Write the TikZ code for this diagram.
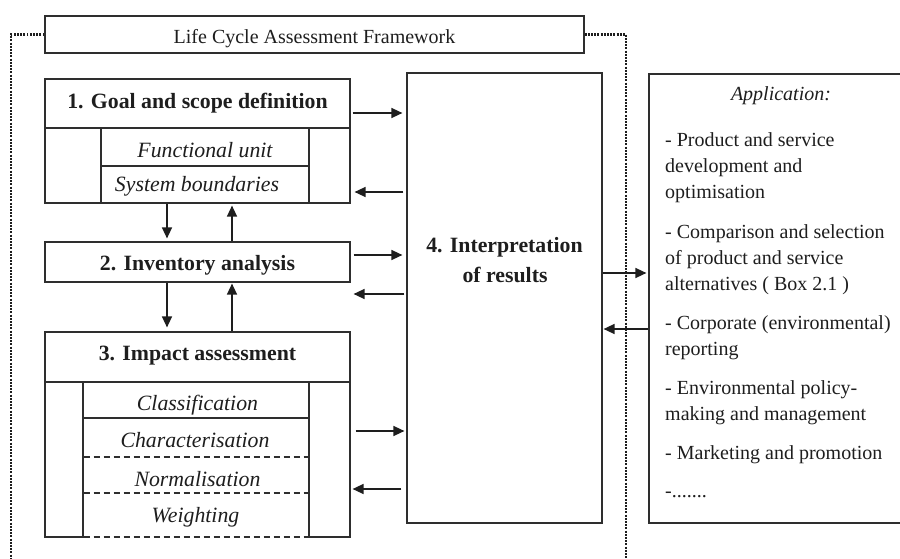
\documentclass[tikz,border=0pt]{standalone}
\usepackage{fontspec}
\setmainfont{Liberation Serif}
\usetikzlibrary{arrows.meta}

\definecolor{ink}{HTML}{1E1E1E}
\definecolor{rule}{HTML}{2E2E2E}

\tikzset{
  box/.style={draw=rule, line width=1.2pt, inner sep=0pt, fill=none},
  arr/.style={draw=ink, line width=1.5pt, -{Triangle[length=11pt,width=10pt]}},
  dotline/.style={draw=ink, line width=2.3pt, dash pattern=on 1.9pt off 1.3pt},
  dashrule/.style={draw=rule, line width=1.1pt, dash pattern=on 6pt off 4pt},
  solidrule/.style={draw=rule, line width=1.2pt},
  head/.style={font=\fontsize{21.8}{26}\selectfont\bfseries, text=ink, anchor=base, inner sep=0pt},
  step label/.style={font=\fontsize{21.8}{26}\selectfont\itshape, text=ink, anchor=base, inner sep=0pt},
  plain/.style={font=\fontsize{20}{26}\selectfont, text=ink, anchor=base, inner sep=0pt},
  appline/.style={font=\fontsize{20}{26}\selectfont, text=ink, anchor=base west, inner sep=0pt},
}

\begin{document}
\begin{tikzpicture}[x=1pt, y=-1pt]
  \useasboundingbox (0,0) rectangle (900,559);
  \fill[white] (0,0) rectangle (900,559);

  % framework title and dotted frame
  \node[box, minimum width=539pt, minimum height=37pt] (title) at (314.5,34.5) {};
  \node[plain] (titletext) at (314.5,43.3) {Life Cycle Assessment Framework};
  \coordinate (fl) at (11,565);
  \coordinate (fr) at (626,565);
  \draw[dotline] (title.west) -| (fl);
  \draw[dotline] (title.east) -| (fr);

  % 1. goal and scope
  \node[box, minimum width=305pt, minimum height=49pt] (g1) at (197.5,103.5) {};
  \node[head] (g1text) at (197.5,108.5) {1. Goal and scope definition};
  \node[box, minimum width=305pt, minimum height=75pt] (g1b) at (197.5,165.5) {};
  \node[box, minimum width=208pt, minimum height=38pt] (fu) at (205,147) {};
  \node[box, minimum width=208pt, minimum height=37pt] (sb) at (205,184.5) {};
  \node[step label] (futext) at (205,158) {Functional unit};
  \node[step label] (sbtext) at (197,192) {System boundaries};

  % 2. inventory analysis
  \node[box, minimum width=305pt, minimum height=40pt] (g2) at (197.5,262) {};
  \node[head] (g2text) at (197.5,270) {2. Inventory analysis};

  % 3. impact assessment
  \node[box, minimum width=305pt, minimum height=50pt] (g3) at (197.5,357) {};
  \node[head] (g3text) at (197.5,360) {3. Impact assessment};
  \node[box, minimum width=38pt, minimum height=155pt] (lc) at (64,459.5) {};
  \node[box, minimum width=41pt, minimum height=155pt] (rc) at (329.5,459.5) {};
  \coordinate (y418) at (0,418);
  \coordinate (y457) at (0,457);
  \coordinate (y493) at (0,493);
  \coordinate (y537) at (0,537);
  \draw[solidrule] (lc.east |- y418) -- (rc.west |- y418);
  \draw[dashrule] (lc.east |- y457) -- (rc.west |- y457);
  \draw[dashrule] (lc.east |- y493) -- (rc.west |- y493);
  \draw[dashrule] (lc.east |- y537) -- (rc.west |- y537);
  \node[step label] (cl) at (197.5,410) {Classification};
  \node[step label] (ch) at (195,447) {Characterisation};
  \node[step label] (no) at (197.5,486) {Normalisation};
  \node[step label] (we) at (195.5,522) {Weighting};

  % 4. interpretation
  \node[box, minimum width=195pt, minimum height=450pt] (b4) at (504.5,298) {};
  \node[head] (b4a) at (504.5,252) {4. Interpretation};
  \node[head] (b4b) at (505,282) {of results};

  % applications
  \node[box, minimum width=263pt, minimum height=449pt] (app) at (780.5,298.5) {};
  \node[font=\fontsize{20}{26}\selectfont\itshape, text=ink, anchor=base, inner sep=0pt] (apphead) at (781,100.5) {Application:};
  \node[appline] (a1) at (665,147) {- Product and service};
  \node[appline] (a2) at (665,173) {development and};
  \node[appline] (a3) at (665,199) {optimisation};
  \node[appline] (a4) at (665,238) {- Comparison and selection};
  \node[appline] (a5) at (665,264) {of product and service};
  \node[appline] (a6) at (665,290) {alternatives ( Box 2.1 )};
  \node[appline] (a7) at (665,329) {- Corporate (environmental)};
  \node[appline] (a8) at (665,355) {reporting};
  \node[appline] (a9) at (665,394) {- Environmental policy-};
  \node[appline] (a10) at (665,420) {making and management};
  \node[appline] (a11) at (665,459) {- Marketing and promotion};
  \node[appline] (a12) at (665,497) {-.......};

  % rows and columns of the connectors
  \coordinate (r113) at (0,113);
  \coordinate (r192) at (0,192);
  \coordinate (r255) at (0,255);
  \coordinate (r294) at (0,294);
  \coordinate (r431) at (0,431);
  \coordinate (r489) at (0,489);
  \coordinate (r273) at (0,273);
  \coordinate (r329) at (0,329);
  \coordinate (c1) at (167,0);
  \coordinate (c2) at (232,0);

  % connectors between the phases
  \draw[arr, shorten <=2pt, shorten >=4pt] (g1.east |- r113) -- (b4.west |- r113);
  \draw[arr, shorten <=3pt, shorten >=4pt] (b4.west |- r192) -- (g1b.east |- r192);
  \draw[arr, shorten >=3pt] (g1b.south -| c1) -- (g2.north -| c1);
  \draw[arr, shorten >=2pt] (g2.north -| c2) -- (g1b.south -| c2);
  \draw[arr, shorten <=3pt, shorten >=4pt] (g2.east |- r255) -- (b4.west |- r255);
  \draw[arr, shorten <=2pt, shorten >=3pt] (b4.west |- r294) -- (g2.east |- r294);
  \draw[arr, shorten >=4pt] (g2.south -| c1) -- (g3.north -| c1);
  \draw[arr, shorten >=1pt] (g3.north -| c2) -- (g2.south -| c2);
  \draw[arr, shorten <=5pt, shorten >=2pt] (rc.east |- r431) -- (b4.west |- r431);
  \draw[arr, shorten <=5pt, shorten >=2pt] (b4.west |- r489) -- (rc.east |- r489);
  \draw[arr, shorten >=2pt] (b4.east |- r273) -- (app.west |- r273);
  \draw[arr, shorten >=1pt] (app.west |- r329) -- (b4.east |- r329);
\end{tikzpicture}
\end{document}
